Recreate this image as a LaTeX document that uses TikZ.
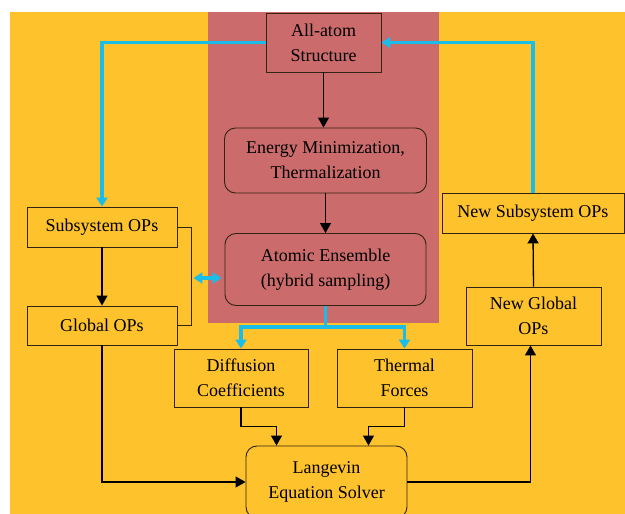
\documentclass[tikz,border=0pt]{standalone}
\usepackage{fontspec}
\setmainfont{Liberation Serif}
\usetikzlibrary{arrows.meta}

\definecolor{bgyellow}{RGB}{254,194,44}
\definecolor{bgred}{RGB}{203,107,107}
\definecolor{flowblue}{RGB}{26,189,232}
\definecolor{edge}{RGB}{50,35,20}

\tikzset{
  box/.style={draw=edge, line width=0.9pt, align=center, inner sep=0pt,
    font=\fontsize{18}{25}\selectfont},
  rbox/.style={box, rounded corners=11pt},
  arr/.style={line width=1.3pt, -{Triangle[length=10pt,width=11pt]}},
  bline/.style={line width=3.4pt, flowblue},
  barr/.style={bline, -{Triangle[length=9pt,width=11pt]}},
}

\begin{document}
\begin{tikzpicture}[x=1pt, y=-1pt]
    \useasboundingbox (0,0) rectangle (625,514);
    \fill[bgyellow] (10,12) rectangle (626,515);
    \fill[bgred] (208,12) rectangle (439,323);

    \node[box, fill=bgred, minimum width=115pt, minimum height=59pt] (allatom) at (323.5,42.5) {All-atom\\Structure};
    \node[rbox, fill=bgred, minimum width=202pt, minimum height=65pt] (energy) at (325.5,160.5) {Energy Minimization,\\Thermalization};
    \node[rbox, fill=bgred, minimum width=201pt, minimum height=72pt] (ensemble) at (325.5,269.5) {Atomic Ensemble\\(hybrid sampling)};

    \node[box, fill=bgyellow, minimum width=150pt, minimum height=40pt] (subsys) at (102,227) {Subsystem OPs};
    \node[box, fill=bgyellow, minimum width=150pt, minimum height=39pt] (global) at (102,325.5) {Global OPs};
    \node[box, fill=bgyellow, minimum width=134pt, minimum height=58pt] (diffusion) at (241,378) {Diffusion\\Coefficients};
    \node[box, fill=bgyellow, minimum width=135pt, minimum height=58pt] (thermal) at (404.5,378) {Thermal\\Forces};
    \node[rbox, fill=bgyellow, minimum width=161pt, minimum height=72pt] (langevin) at (326.5,482) {Langevin\\Equation Solver};
    \node[box, fill=bgyellow, minimum width=135pt, minimum height=58pt] (newglobal) at (533.5,316) {New Global\\OPs};
    \node[box, fill=bgyellow, minimum width=182pt, minimum height=40pt] (newsubsys) at (533,213) {New Subsystem OPs};

    % atomistic part
    \draw[arr] (allatom.south) -- (allatom.south |- energy.north);
    \draw[arr] (energy.south) -- (ensemble.north);

    % coarse-grained loop
    \draw[arr] (subsys.south) -- (global.north);
    \draw[line width=0.9pt, edge] (subsys.east) -- ++(14,0) coordinate (brk) |- (global.east);
    \draw[bline, {Triangle[length=9pt,width=11pt]}-{Triangle[length=9pt,width=11pt]}] ([xshift=2pt]brk |- 0,278) coordinate (brkmid) -- ([xshift=-3pt]brkmid -| ensemble.west);
    \draw[barr] (allatom.west) -| (subsys.north);
    \draw[barr] (newsubsys.north) |- (allatom.east);
    \draw[bline] (ensemble.south) -- ++(0,21) coordinate (split);
    \draw[barr] (split) -| (diffusion.north);
    \draw[barr] (split) -| (thermal.north);

    \draw[arr] (diffusion.south) -- ++(0,19) -| ([xshift=-50pt]langevin.north);
    \draw[arr] (thermal.south) -- ++(0,19) -| ([xshift=42pt]langevin.north);
    \draw[arr] (global.south) |- (langevin.west);
    \draw[arr] (langevin.east) -| ([xshift=-3pt]newglobal.south);
    \draw[arr] (newglobal.north) -- (newsubsys.south);
\end{tikzpicture}
\end{document}
